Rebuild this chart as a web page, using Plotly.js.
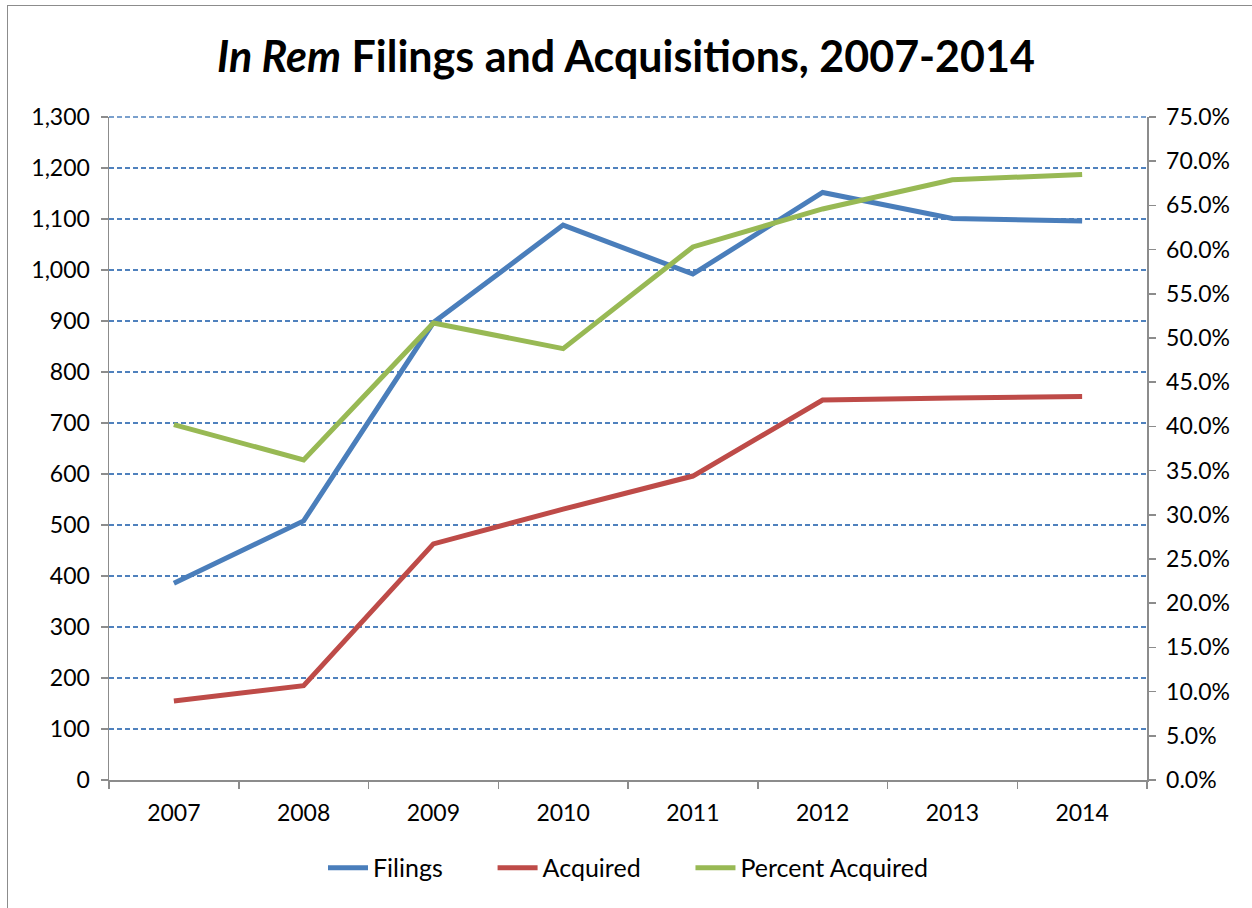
<!DOCTYPE html>
<html>
<head>
<meta charset="utf-8">
<script src="https://cdn.plot.ly/plotly-3.0.1.min.js"></script>
<style>
html,body{margin:0;padding:0;background:#fff;overflow:hidden;}
#frame{position:absolute;left:7px;top:5px;width:1300px;height:1000px;border:1.5px solid #8c8c8c;box-sizing:border-box;pointer-events:none;z-index:5;}
#chart{position:absolute;left:0;top:0;width:1252px;height:908px;}
</style>
</head>
<body>
<div id="chart"></div>
<div id="frame"></div>
<script>
const years = ['2007','2008','2009','2010','2011','2012','2013','2014'];
const filings = [386, 508, 897, 1088, 992, 1152, 1101, 1096];
const acquired = [155, 185, 463, 531, 596, 745, 749, 752];
const percentAcquired = [0.402, 0.362, 0.517, 0.488, 0.603, 0.646, 0.679, 0.685];
const seriesNames = ['Filings', 'Acquired', 'Percent Acquired'];

const font = 'Lato, "Open Sans", "Liberation Sans", sans-serif';
const gridColor = '#4f81bd';
const pad = '&nbsp;&nbsp;&nbsp;&nbsp;&nbsp;&nbsp;&nbsp;';

const traces = [
  {x: years, y: filings, name: seriesNames[0] + pad, type: 'scatter', mode: 'lines',
   line: {color: '#4a7ebb', width: 5}},
  {x: years, y: acquired, name: seriesNames[1] + pad, type: 'scatter', mode: 'lines',
   line: {color: '#be4b48', width: 5}},
  {x: years, y: percentAcquired, name: seriesNames[2], type: 'scatter', mode: 'lines',
   yaxis: 'y2', line: {color: '#98b954', width: 5}}
];

const layout = {
  width: 1252, height: 908,
  margin: {l: 109, r: 105, t: 117, b: 128},
  paper_bgcolor: '#fff', plot_bgcolor: '#fff',
  font: {family: font, size: 23, color: '#000'},
  title: {text: '<i>In Rem</i> Filings and Acquisitions, 2007-2014',
          font: {family: font, size: 43, color: '#000', weight: 'bold'},
          x: 0.5, xanchor: 'center', y: 0.937, yanchor: 'middle'},
  showlegend: true,
  legend: {orientation: 'h', x: 0.5, xanchor: 'center', y: -0.098, yanchor: 'top',
           font: {family: font, size: 25}, itemwidth: 40, traceorder: 'normal'},
  xaxis: {type: 'category', tickson: 'boundaries', ticks: 'outside', ticklen: 7,
          tickcolor: '#8c8c8c', tickwidth: 1.5, showline: true, linecolor: '#8c8c8c',
          linewidth: 1.5, showgrid: false, zeroline: false, fixedrange: true,
          ticklabelstandoff: 12,
          tickfont: {family: font, size: 23}, range: [-0.5, 7.5]},
  yaxis: {range: [0, 1300], dtick: 100, tick0: 0, tickformat: ',', ticks: 'outside',
          ticklen: 7, tickcolor: '#8c8c8c', tickwidth: 1.5, showline: true,
          linecolor: '#8c8c8c', linewidth: 1.5, showgrid: true, gridcolor: gridColor,
          gridwidth: 1.3, griddash: '5px,3px', zeroline: false, ticklabelstandoff: 6,
          tickfont: {family: font, size: 23}},
  yaxis2: {overlaying: 'y', side: 'right', range: [0, 0.75], dtick: 0.05, tick0: 0,
           tickformat: '.1%', ticks: 'outside', ticklen: 7, tickcolor: '#8c8c8c',
           tickwidth: 1.5, showline: true, linecolor: '#8c8c8c', linewidth: 1.5,
           showgrid: false, zeroline: false, ticklabelstandoff: 6,
           tickfont: {family: font, size: 23}},
  shapes: [
    {type: 'line', xref: 'paper', yref: 'paper', x0: 0, x1: 1, y0: 1, y1: 1,
     line: {color: gridColor, width: 1.3, dash: '5px,3px'}, layer: 'above'}
  ]
};

Plotly.newPlot('chart', traces, layout, {displayModeBar: false, staticPlot: true});
</script>
</body>
</html>
